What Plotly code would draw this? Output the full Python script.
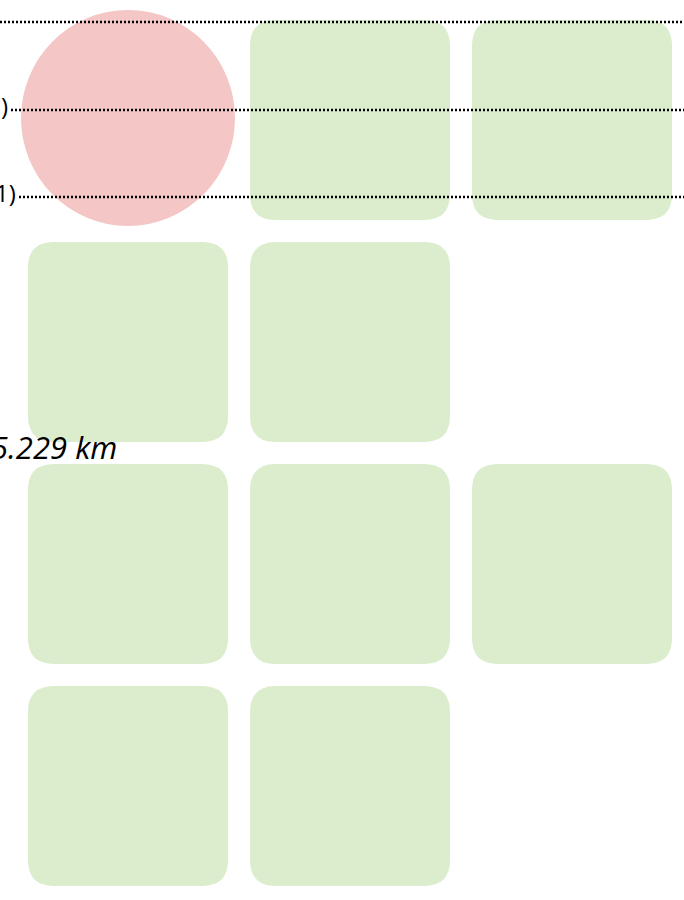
import plotly.graph_objects as go

# ---- data ----
cell_rows = [0, 0, 1, 1, 2, 2, 2, 3, 3]
cell_cols = [1, 2, 0, 1, 0, 1, 2, 0, 1]
circle_cell = (0, 0)
dot_line_y = [22, 110, 197]
dot_line_x0 = [0, 11, 19]
labels = [")", "1)", "5.229 km"]
label_x = [10, 18, 119]
label_y = [105, 192, 447]
label_size = [24, 24, 31]
label_italic = [False, False, True]

W, H = 684, 900
ORIGIN_X, ORIGIN_Y = 28, 20
CELL, STEP, RAD = 200, 222, 26
GREEN = "#DBEDCD"
PINK = "#F4C6C6"


def rounded_rect(x0, y0, x1, y1, r):
    return (f"M {x0+r},{y0} L {x1-r},{y0} Q {x1},{y0} {x1},{y0+r} "
            f"L {x1},{y1-r} Q {x1},{y1} {x1-r},{y1} L {x0+r},{y1} "
            f"Q {x0},{y1} {x0},{y1-r} L {x0},{y0+r} Q {x0},{y0} {x0+r},{y0} Z")


shapes = []
for r, c in zip(cell_rows, cell_cols):
    x0 = ORIGIN_X + c * STEP
    y0 = ORIGIN_Y + r * STEP
    shapes.append(dict(type="path", xref="x", yref="y",
                       path=rounded_rect(x0, y0, x0 + CELL, y0 + CELL, RAD),
                       fillcolor=GREEN, line=dict(width=0), layer="below"))

cr, cc = circle_cell
cx = ORIGIN_X + cc * STEP + CELL / 2
cy = ORIGIN_Y + cr * STEP + CELL / 2 - 2
rad = 107
shapes.append(dict(type="circle", xref="x", yref="y",
                   x0=cx - rad, x1=cx + rad, y0=cy - rad - 1, y1=cy + rad + 1,
                   fillcolor=PINK, line=dict(width=0), layer="below"))

fig = go.Figure()
for y, x0 in zip(dot_line_y, dot_line_x0):
    fig.add_trace(go.Scatter(x=[x0, W], y=[y, y], mode="lines",
                             line=dict(color="black", width=2.4, dash="2px,2px"),
                             hoverinfo="skip", showlegend=False, cliponaxis=False))

annotations = []
for t, x, y, s, it in zip(labels, label_x, label_y, label_size, label_italic):
    annotations.append(dict(text=f"<i>{t}</i>" if it else t, x=x, y=y,
                            xref="x", yref="y", xanchor="right", yanchor="middle",
                            showarrow=False,
                            font=dict(family="Open Sans", size=s, color="black")))

fig.update_layout(
    width=W, height=H, margin=dict(l=0, r=0, t=0, b=0),
    paper_bgcolor="white", plot_bgcolor="white",
    xaxis=dict(range=[0, W], visible=False, fixedrange=True),
    yaxis=dict(range=[H, 0], visible=False, fixedrange=True),
    shapes=shapes, annotations=annotations, showlegend=False,
)

fig.write_html(
    "out.html",
    config={"displayModeBar": False},
    post_script="document.body.style.margin='0';document.body.style.overflow='hidden';",
)
